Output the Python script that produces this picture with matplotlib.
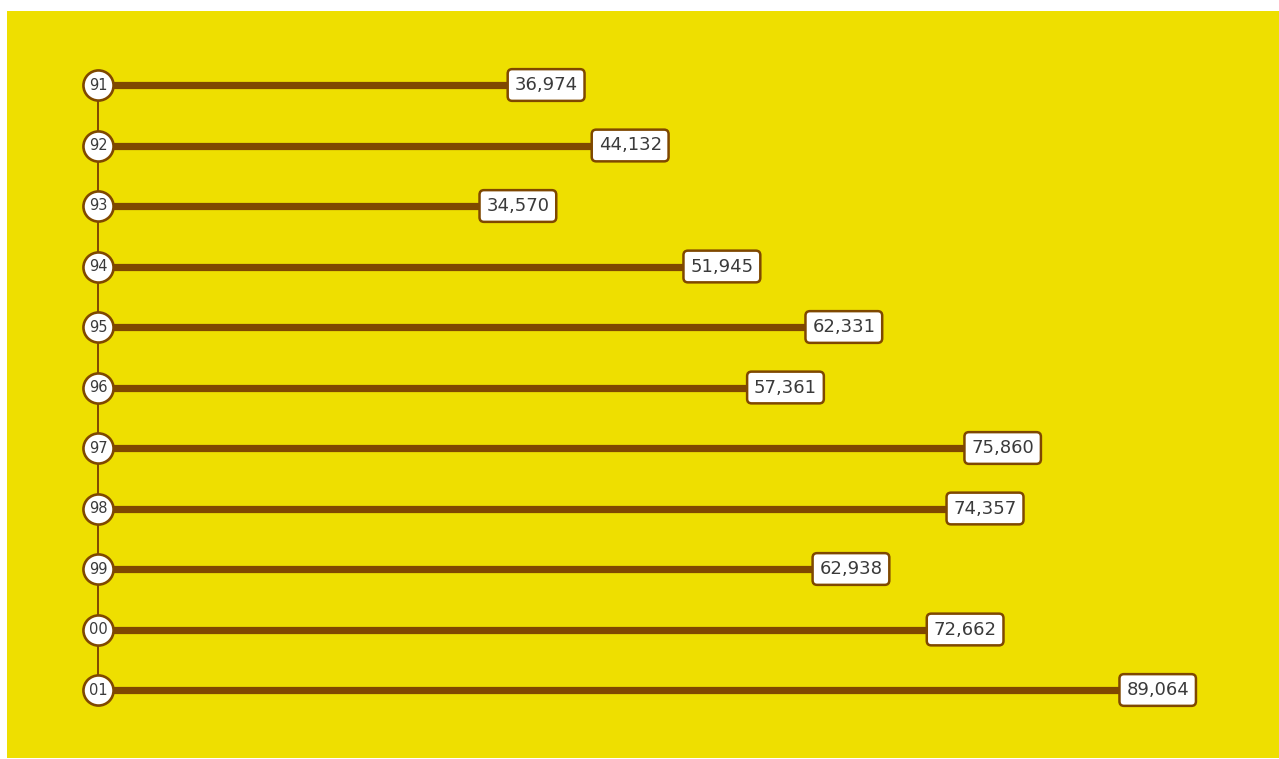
import matplotlib.pyplot as plt
from matplotlib.patches import Rectangle

# data
years = ["91", "92", "93", "94", "95", "96", "97", "98", "99", "00", "01"]
values = [36974, 44132, 34570, 51945, 62331, 57361, 75860, 74357, 62938, 72662, 89064]

yellow = "#EEDF00"
brown = "#7F4800"
text_col = "#3a3a3a"

W, H = 1279, 759
fig = plt.figure(figsize=(W / 100, H / 100), dpi=100)
fig.patch.set_facecolor("white")
ax = fig.add_axes([0, 0, 1, 1])

# pixel mapping: x = 112 + 0.011741*v ; y = 85 + 60.5*i
sx, x0 = 0.011741, 112
sy, y0 = 60.5, 85
ax.set_xlim(-x0 / sx, (W - x0) / sx)
ax.set_ylim((H - y0) / sy, -y0 / sy)
ax.axis("off")

# yellow panel
ax.add_patch(Rectangle((-(x0 - 7) / sx, -(y0 - 11) / sy), (W - 7) / sx, (H - 12) / sy,
                       facecolor=yellow, edgecolor="none", zorder=0))

rows = list(range(len(years)))
cx = -14 / sx  # circle column sits a little left of zero

# connector line
ax.plot([cx, cx], [rows[0], rows[-1]], color=brown, lw=1.4, zorder=1)

# bars
for i, v in zip(rows, values):
    ax.plot([cx, v], [i, i], color=brown, lw=5.2, solid_capstyle="butt", zorder=2)
    ax.text(v, i, f"{v:,}", ha="center", va="center", fontsize=13, color=text_col,
            zorder=5,
            bbox=dict(boxstyle="round,pad=0.38,rounding_size=0.25", facecolor="white",
                      edgecolor=brown, linewidth=1.8))

# circles
ax.scatter([cx] * len(rows), rows, s=470, facecolor="white", edgecolor=brown,
           linewidth=1.9, zorder=3)
for i, y in zip(rows, years):
    ax.text(cx, i, y, ha="center", va="center", fontsize=10.5, color=text_col, zorder=4)

fig.savefig("out.png", dpi=100, facecolor=fig.get_facecolor())
